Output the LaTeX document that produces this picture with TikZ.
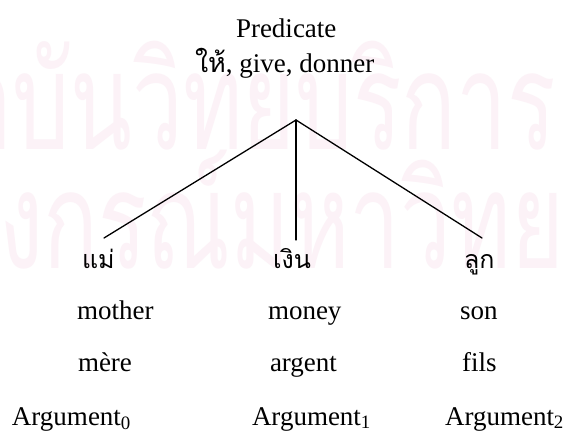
\documentclass[tikz,border=0pt]{standalone}
\usepackage{fontspec}
\setmainfont{Liberation Serif}
\newfontfamily\thaifont[Script=Thai]{Loma}
\definecolor{wmpink}{RGB}{252,242,247}
\tikzset{
  lbl/.style={anchor=base west, inner sep=0pt, outer sep=0pt, font=\fontsize{27}{32}\selectfont},
  thaiword/.style={anchor=base west, inner sep=0pt, outer sep=0pt, font=\thaifont\fontsize{25}{30}\selectfont},
  wm/.style={inner sep=0pt, text=wmpink, font=\thaifont\fontsize{135}{160}\selectfont},
  branch/.style={line width=1.3pt, line cap=round},
}
\begin{document}
\begin{tikzpicture}[x=1pt,y=-1pt]
\useasboundingbox (0,0) rectangle (569,446);
\fill[white] (0,0) rectangle (569,446);
\begin{scope}
\clip (0,0) rectangle (569,446);
\node[wm, anchor=base east] (wm1) at (556,150) {\scalebox{0.67}[1]{สถาบันวิทยบริการ}};
\node[wm, anchor=base west] (wm2) at (-222,268) {\scalebox{0.67}[1]{จุฬาลงกรณ์มหาวิทยาลัย}};
\end{scope}
% top labels
\node[lbl] (pred) at (236,38) {Predicate};
\node[lbl] (give) at (195,73) {{\thaifont\fontsize{27}{32}\selectfont ให้}, give, donner};
% tree
\coordinate (apex) at (296,120);
\coordinate (e0) at (104,238);
\coordinate (e1) at (296,240);
\coordinate (e2) at (482,238);
\draw[branch] (apex) -- (e0);
\draw[branch] (apex) -- (e1);
\draw[branch] (apex) -- (e2);
% Thai words
\node[thaiword] (w0) at (82,268) {แม่};
\node[thaiword] (w1) at (273,268) {เงิน};
\node[thaiword] (w2) at (464,268) {ลูก};
% English
\node[lbl] (en0) at (77,319) {mother};
\node[lbl] (en1) at (268,319) {money};
\node[lbl] (en2) at (460,319) {son};
% French
\node[lbl] (fr0) at (78,371) {mère};
\node[lbl] (fr1) at (270,371) {argent};
\node[lbl] (fr2) at (462,371) {fils};
% Arguments
\node[lbl] (a0) at (12,425) {Argument\textsubscript{0}};
\node[lbl] (a1) at (252,425) {Argument\textsubscript{1}};
\node[lbl] (a2) at (445,425) {Argument\textsubscript{2}};
\end{tikzpicture}
\end{document}
